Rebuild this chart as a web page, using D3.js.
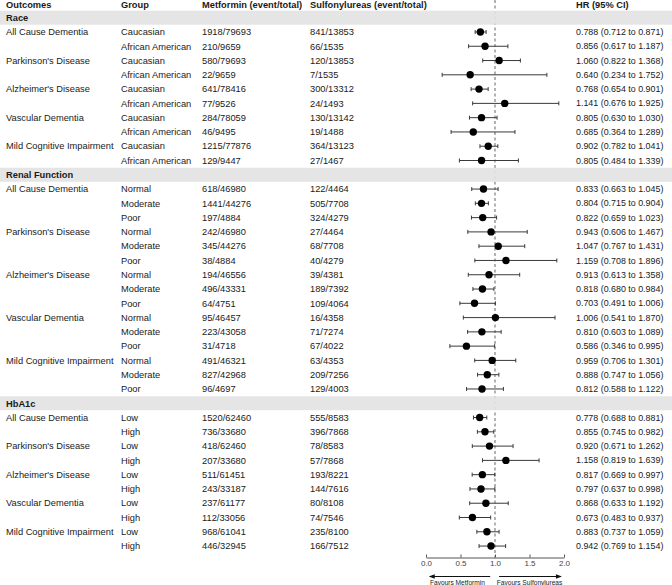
<!DOCTYPE html>
<html>
<head>
<meta charset="utf-8">
<script src="https://cdn.jsdelivr.net/npm/d3@7"></script>
<style>
    body { margin: 0; background: #fff; }
    svg { display: block; font-family: "Liberation Sans", Arial, sans-serif; }
</style>
</head>
<body>
<svg id="chart" width="672" height="585"></svg>
<script>
// section titles and the row index each one sits on
var sections = ['Race', 'Renal Function', 'HbA1c'];

var outcomes = [
    'All Cause Dementia', '', 'Parkinson\'s Disease', '', 'Alzheimer\'s Disease', '',
    'Vascular Dementia', '', 'Mild Cognitive Impairment', '',
    'All Cause Dementia', '', '', 'Parkinson\'s Disease', '', '', 'Alzheimer\'s Disease', '', '',
    'Vascular Dementia', '', '', 'Mild Cognitive Impairment', '', '',
    'All Cause Dementia', '', 'Parkinson\'s Disease', '', 'Alzheimer\'s Disease', '',
    'Vascular Dementia', '', 'Mild Cognitive Impairment', ''
];

var sectionOf = [
    0, 0, 0, 0, 0, 0, 0, 0, 0, 0,
    1, 1, 1, 1, 1, 1, 1, 1, 1, 1, 1, 1, 1, 1, 1,
    2, 2, 2, 2, 2, 2, 2, 2, 2, 2
];

var groups = [
    'Caucasian', 'African American', 'Caucasian', 'African American', 'Caucasian', 'African American',
    'Caucasian', 'African American', 'Caucasian', 'African American',
    'Normal', 'Moderate', 'Poor', 'Normal', 'Moderate', 'Poor', 'Normal', 'Moderate', 'Poor',
    'Normal', 'Moderate', 'Poor', 'Normal', 'Moderate', 'Poor',
    'Low', 'High', 'Low', 'High', 'Low', 'High', 'Low', 'High', 'Low', 'High'
];

var metformin = [
    '1918/79693', '210/9659', '580/79693', '22/9659', '641/78416', '77/9526',
    '284/78059', '46/9495', '1215/77876', '129/9447',
    '618/46980', '1441/44276', '197/4884', '242/46980', '345/44276', '38/4884',
    '194/46556', '496/43331', '64/4751', '95/46457', '223/43058', '31/4718',
    '491/46321', '827/42968', '96/4697',
    '1520/62460', '736/33680', '418/62460', '207/33680', '511/61451', '243/33187',
    '237/61177', '112/33056', '968/61041', '446/32945'
];

var sulfonylureas = [
    '841/13853', '66/1535', '120/13853', '7/1535', '300/13312', '24/1493',
    '130/13142', '19/1488', '364/13123', '27/1467',
    '122/4464', '505/7708', '324/4279', '27/4464', '68/7708', '40/4279',
    '39/4381', '189/7392', '109/4064', '16/4358', '71/7274', '67/4022',
    '63/4353', '209/7256', '129/4003',
    '555/8583', '396/7868', '78/8583', '57/7868', '193/8221', '144/7616',
    '80/8108', '74/7546', '235/8100', '166/7512'
];

var hr = [
    0.788, 0.856, 1.060, 0.640, 0.768, 1.141, 0.805, 0.685, 0.902, 0.805,
    0.833, 0.804, 0.822, 0.943, 1.047, 1.159, 0.913, 0.818, 0.703,
    1.006, 0.810, 0.586, 0.959, 0.888, 0.812,
    0.778, 0.855, 0.920, 1.158, 0.817, 0.797, 0.868, 0.673, 0.883, 0.942
];

var lower = [
    0.712, 0.617, 0.822, 0.234, 0.654, 0.676, 0.630, 0.364, 0.782, 0.484,
    0.663, 0.715, 0.659, 0.606, 0.767, 0.708, 0.613, 0.680, 0.491,
    0.541, 0.603, 0.346, 0.706, 0.747, 0.588,
    0.688, 0.745, 0.671, 0.819, 0.669, 0.637, 0.633, 0.483, 0.737, 0.769
];

var upper = [
    0.871, 1.187, 1.368, 1.752, 0.901, 1.925, 1.030, 1.289, 1.041, 1.339,
    1.045, 0.904, 1.023, 1.467, 1.431, 1.896, 1.358, 0.984, 1.006,
    1.870, 1.089, 0.995, 1.301, 1.056, 1.122,
    0.881, 0.982, 1.262, 1.639, 0.997, 0.998, 1.192, 0.937, 1.059, 1.154
];

var axisTicks = [0, 0.5, 1, 1.5, 2];

var headers = ['Outcomes', 'Group', 'Metformin (event/total)', 'Sulfonylureas (event/total)', 'HR (95% CI)'];

var width = 672;
var height = 585;
var colX = [6, 121, 202, 310, 576];
var rowH = 14.28;
var top0 = 17.7;
var fontSize = 9.3;
var textColor = '#1a1a1a';

// build the row list: one section row, then its data rows
var rows = [];
sections.forEach(function (name, s) {
    rows.push({ type: 'section', name: name });
    for (var i = 0; i < hr.length; i++) {
        if (sectionOf[i] === s) {
            rows.push({ type: 'data', i: i });
        }
    }
});
rows.forEach(function (r, k) {
    r.y = top0 + k * rowH;
});

var svg = d3.select('#chart');

var x = d3.scaleLinear()
    .domain([0, 2])
    .range([426, 564]);

var axisY = 557.5;

// reference line at HR = 1
svg.append('line')
    .attr('x1', x(1))
    .attr('x2', x(1))
    .attr('y1', 0)
    .attr('y2', axisY)
    .attr('stroke', '#8a8a8a')
    .attr('stroke-width', 1.3)
    .attr('stroke-dasharray', '3,2.5');

// section bands
var secRows = rows.filter(function (r) { return r.type === 'section'; });

svg.selectAll('.band')
    .data(secRows)
    .enter()
    .append('rect')
    .attr('class', 'band')
    .attr('x', 0)
    .attr('y', function (d) { return d.y - 7; })
    .attr('width', width)
    .attr('height', 14)
    .attr('fill', '#e3e3e3')
    .attr('fill-opacity', 0.92);

svg.selectAll('.secLabel')
    .data(secRows)
    .enter()
    .append('text')
    .attr('class', 'secLabel')
    .attr('x', colX[0])
    .attr('y', function (d) { return d.y; })
    .attr('dy', '0.35em')
    .attr('font-size', fontSize)
    .attr('font-weight', 'bold')
    .attr('fill', textColor)
    .text(function (d) { return d.name; });

// column headers
svg.selectAll('.header')
    .data(headers)
    .enter()
    .append('text')
    .attr('class', 'header')
    .attr('x', function (d, i) { return colX[i]; })
    .attr('y', 4.5)
    .attr('dy', '0.35em')
    .attr('font-size', fontSize)
    .attr('font-weight', 'bold')
    .attr('fill', textColor)
    .text(function (d) { return d; });

var dataRows = rows.filter(function (r) { return r.type === 'data'; });

var cols = [
    function (i) { return outcomes[i]; },
    function (i) { return groups[i]; },
    function (i) { return metformin[i]; },
    function (i) { return sulfonylureas[i]; },
    function (i) {
        return hr[i].toFixed(3) + ' (' + lower[i].toFixed(3) + ' to ' + upper[i].toFixed(3) + ')';
    }
];
var colFont = [fontSize, fontSize, fontSize, fontSize, 8.9];

cols.forEach(function (fn, c) {
    svg.selectAll('.col' + c)
        .data(dataRows)
        .enter()
        .append('text')
        .attr('class', 'col' + c)
        .attr('x', colX[c])
        .attr('y', function (d) { return d.y; })
        .attr('dy', '0.35em')
        .attr('font-size', colFont[c])
        .attr('fill', textColor)
        .text(function (d) { return fn(d.i); });
});

// confidence intervals
var ci = svg.selectAll('.ci')
    .data(dataRows)
    .enter()
    .append('g')
    .attr('class', 'ci')
    .attr('stroke', '#3a3a3a')
    .attr('stroke-width', 1);

ci.append('line')
    .attr('x1', function (d) { return x(lower[d.i]); })
    .attr('x2', function (d) { return x(upper[d.i]); })
    .attr('y1', function (d) { return d.y; })
    .attr('y2', function (d) { return d.y; });

ci.append('line')
    .attr('x1', function (d) { return x(lower[d.i]); })
    .attr('x2', function (d) { return x(lower[d.i]); })
    .attr('y1', function (d) { return d.y - 2; })
    .attr('y2', function (d) { return d.y + 2; });

ci.append('line')
    .attr('x1', function (d) { return x(upper[d.i]); })
    .attr('x2', function (d) { return x(upper[d.i]); })
    .attr('y1', function (d) { return d.y - 2; })
    .attr('y2', function (d) { return d.y + 2; });

svg.selectAll('.pt')
    .data(dataRows)
    .enter()
    .append('circle')
    .attr('class', 'pt')
    .attr('cx', function (d) { return x(hr[d.i]); })
    .attr('cy', function (d) { return d.y; })
    .attr('r', 3.7)
    .attr('fill', '#000');

// x axis, ticks pointing up
var axis = d3.axisBottom(x)
    .tickValues(axisTicks)
    .tickFormat(d3.format('.1f'))
    .tickSizeInner(-3)
    .tickSizeOuter(0)
    .tickPadding(3);

var gAxis = svg.append('g')
    .attr('transform', 'translate(0,' + axisY + ')')
    .call(axis);

gAxis.select('.domain').attr('stroke', '#555');
gAxis.selectAll('.tick line').attr('stroke', '#555');
gAxis.selectAll('.tick text')
    .attr('fill', '#444')
    .attr('font-size', 8)
    .attr('font-family', '"Liberation Sans", Arial, sans-serif');

// favours arrows
var arrowY = 576.5;

function arrow(x0, x1) {
    var dir = x1 > x0 ? 1 : -1;
    svg.append('line')
        .attr('x1', x0)
        .attr('x2', x1 - dir * 5)
        .attr('y1', arrowY)
        .attr('y2', arrowY)
        .attr('stroke', '#111')
        .attr('stroke-width', 1);
    svg.append('path')
        .attr('d', 'M' + x1 + ',' + arrowY + ' L' + (x1 - dir * 6) + ',' + (arrowY - 2.2) +
            ' L' + (x1 - dir * 6) + ',' + (arrowY + 2.2) + ' Z')
        .attr('fill', '#111');
}

arrow(x(0.93), x(0.04));
arrow(x(1.06), x(1.97));

svg.append('text')
    .attr('x', (x(0.93) + x(0.04)) / 2 - 2)
    .attr('y', 583)
    .attr('dy', '0.35em')
    .attr('text-anchor', 'middle')
    .attr('font-size', 6.6)
    .attr('fill', '#222')
    .text('Favours Metformin');

svg.append('text')
    .attr('x', (x(1.06) + x(1.97)) / 2 - 1)
    .attr('y', 583)
    .attr('dy', '0.35em')
    .attr('text-anchor', 'middle')
    .attr('font-size', 6.6)
    .attr('fill', '#222')
    .text('Favours Sulfonylureas');
</script>
</body>
</html>
